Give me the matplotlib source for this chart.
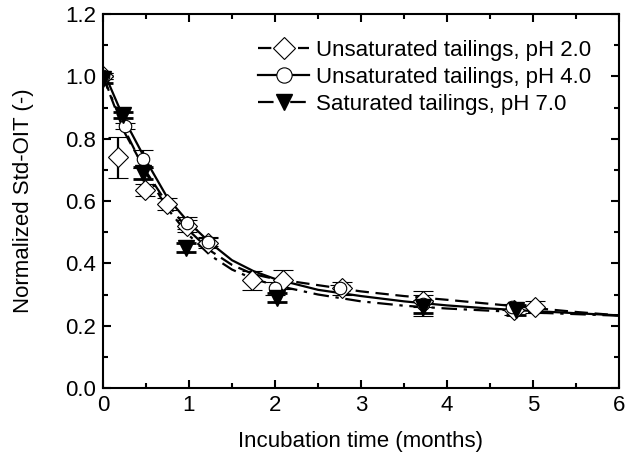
import numpy as np
import matplotlib
matplotlib.use('Agg')
import matplotlib.pyplot as plt
from matplotlib.ticker import MultipleLocator

plt.rcParams['font.family'] = ['Liberation Sans', 'DejaVu Sans']

# measured points (mean, error bar)
t_ph2 = [0, 0.17, 0.49, 0.74, 0.98, 1.22, 1.73, 2.09, 2.78, 3.72, 4.78, 5.02]
y_ph2 = [1.0, 0.74, 0.635, 0.59, 0.52, 0.465, 0.345, 0.348, 0.32, 0.28, 0.25, 0.26]
e_ph2 = [0.01, 0.065, 0.02, 0.02, 0.02, 0.015, 0.03, 0.03, 0.02, 0.02, 0.015, 0.02]

t_ph4 = [0, 0.25, 0.47, 0.98, 1.22, 2.0, 2.75, 3.72, 4.75]
y_ph4 = [1.0, 0.84, 0.735, 0.53, 0.47, 0.32, 0.32, 0.27, 0.26]
e_ph4 = [0.01, 0.01, 0.03, 0.02, 0.015, 0.02, 0.01, 0.04, 0.01]

t_ph7 = [0, 0.23, 0.47, 0.96, 2.02, 3.72, 4.8]
y_ph7 = [0.99, 0.876, 0.69, 0.45, 0.29, 0.26, 0.25]
e_ph7 = [0.01, 0.01, 0.02, 0.015, 0.015, 0.02, 0.015]

# fitted curves
tc = [0, 0.25, 0.5, 0.75, 1.0, 1.25, 1.5, 1.75, 2.0, 2.5, 3.0, 3.5, 4.0, 4.5, 5.0, 5.5, 6.0]
fit_ph2 = [1.0, 0.82, 0.695, 0.59, 0.505, 0.44, 0.395, 0.365, 0.35, 0.33, 0.31, 0.295, 0.283, 0.27, 0.257, 0.244, 0.233]
fit_ph4 = [1.02, 0.86, 0.73, 0.61, 0.53, 0.465, 0.41, 0.375, 0.35, 0.315, 0.295, 0.278, 0.265, 0.255, 0.247, 0.24, 0.233]
fit_ph7 = [1.0, 0.83, 0.69, 0.575, 0.49, 0.425, 0.38, 0.35, 0.33, 0.30, 0.278, 0.264, 0.255, 0.248, 0.242, 0.237, 0.232]

dash = (0, (6, 3))
dashdot = (0, (7, 3, 1.5, 3))

fig = plt.figure(figsize=(6.26, 4.63), dpi=100)
ax = fig.add_axes([103 / 626, 75 / 463, 516 / 626, 374 / 463])

ebkw = dict(color='black', capsize=7, elinewidth=1.6, capthick=2, linestyle='none')
ax.errorbar(t_ph2, y_ph2, yerr=e_ph2, marker='D', ms=10, mfc='white', mec='black', mew=0.8, **ebkw)
ax.errorbar(t_ph4, y_ph4, yerr=e_ph4, marker='o', ms=9, mfc='white', mec='black', mew=0.8, **ebkw)
ax.errorbar(t_ph7, y_ph7, yerr=e_ph7, marker='v', ms=11, mfc='black', mec='black', **ebkw)

ax.plot(tc, fit_ph2, color='black', lw=1.6, ls=dash)
ax.plot(tc, fit_ph4, color='black', lw=1.6, ls='-')
ax.plot(tc, fit_ph7, color='black', lw=1.6, ls=dashdot)

# legend handles
h2, = ax.plot([], [], color='black', lw=1.6, ls=dash, marker='D', ms=11, mfc='white', mew=0.8)
h4, = ax.plot([], [], color='black', lw=1.6, ls='-', marker='o', ms=11, mfc='white', mew=0.8)
h7, = ax.plot([], [], color='black', lw=1.6, ls=dashdot, marker='v', ms=12, mfc='black')
ax.legend([h2, h4, h7],
          ['Unsaturated tailings, pH 2.0', 'Unsaturated tailings, pH 4.0', 'Saturated tailings, pH 7.0'],
          loc='upper right', frameon=False, fontsize=16, handlelength=2.3, handletextpad=0.3,
          labelspacing=0.28, bbox_to_anchor=(0.963, 0.955), borderaxespad=0)

ax.set_xlim(0, 6)
ax.set_ylim(0, 1.2)
ax.xaxis.set_major_locator(MultipleLocator(1))
ax.xaxis.set_minor_locator(MultipleLocator(0.5))
ax.set_yticks(np.arange(0, 1.21, 0.2))
ax.set_yticklabels(['0.0', '0.2', '0.4', '0.6', '0.8', '1.0', '1.2'])
ax.yaxis.set_minor_locator(MultipleLocator(0.1))
ax.tick_params(which='both', direction='in', top=True, right=True, width=1.5, labelsize=16)
ax.tick_params(which='major', length=6, pad=5)
ax.tick_params(which='minor', length=3.5)
for s in ax.spines.values():
    s.set_linewidth(1.5)

ax.set_xlabel('Incubation time (months)', fontsize=16, labelpad=11)
ax.set_ylabel('Normalized Std-OIT (-)', fontsize=16, labelpad=22)

fig.savefig('out.png', dpi=100)
